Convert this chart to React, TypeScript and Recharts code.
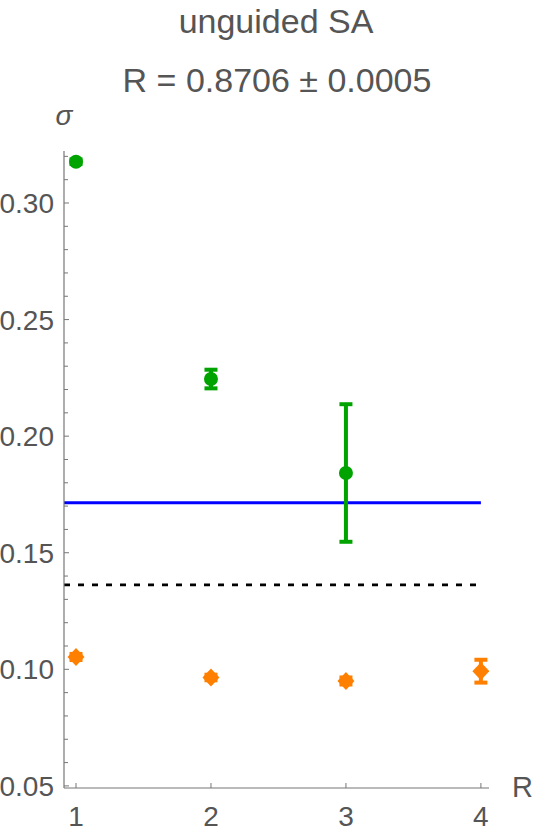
import React from "react";
import {
  ErrorBar,
  ReferenceLine,
  Scatter,
  ScatterChart,
  XAxis,
  YAxis,
} from "recharts";

const rValues = [1, 2, 3, 4];
const greenSigma = [0.3177, 0.2245, 0.1842];
const greenErr = [0.001, 0.004, 0.0295];
const orangeSigma = [0.1053, 0.0965, 0.095, 0.0992];
const orangeErr = [0.0013, 0.0012, 0.0015, 0.0049];

const blueLevel = 0.1714;
const dashedLevel = 0.1362;
const lineSpan = [0.911, 4.0];

const xTicks = [1, 2, 3, 4];
const yTicks = [
  0.05, 0.06, 0.07, 0.08, 0.09, 0.1, 0.11, 0.12, 0.13, 0.14, 0.15, 0.16, 0.17,
  0.18, 0.19, 0.2, 0.21, 0.22, 0.23, 0.24, 0.25, 0.26, 0.27, 0.28, 0.29, 0.3,
  0.31, 0.32,
];
const yMajor = [0.05, 0.1, 0.15, 0.2, 0.25, 0.3];

const greenData = greenSigma.map((s, i) => ({ r: rValues[i], sigma: s, err: greenErr[i] }));
const orangeData = orangeSigma.map((s, i) => ({ r: rValues[i], sigma: s, err: orangeErr[i] }));

const GREEN = "#00a300";
const ORANGE = "#ff8000";
const TEXT = "#555";
const AXIS = "#777";
const FONT = "'Liberation Sans', Arial, sans-serif";

const YTick = (props: any) => {
  const { x, y, payload } = props;
  const major = yMajor.some((m) => Math.abs(m - payload.value) < 1e-6);
  return (
    <g>
      <line x1={x} x2={x + (major ? 5 : 4)} y1={y} y2={y} stroke={AXIS} strokeWidth={1} />
      {major && (
        <text
          x={x - 10}
          y={y}
          dy="0.36em"
          textAnchor="end"
          fontSize={28}
          fontFamily={FONT}
          fill={TEXT}
        >
          {payload.value.toFixed(2)}
        </text>
      )}
    </g>
  );
};

const XTick = (props: any) => {
  const { x, y, payload } = props;
  return (
    <g>
      <line x1={x} x2={x} y1={y} y2={y - 5} stroke={AXIS} strokeWidth={1} />
      <text x={x} y={y + 38} textAnchor="middle" fontSize={28} fontFamily={FONT} fill={TEXT}>
        {payload.value}
      </text>
    </g>
  );
};

const Dot = (props: any) => <circle cx={props.cx} cy={props.cy} r={7} fill={GREEN} />;

const Diamond = (props: any) => {
  const { cx, cy } = props;
  return (
    <polygon
      points={`${cx},${cy - 9} ${cx + 8.5},${cy} ${cx},${cy + 9} ${cx - 8.5},${cy}`}
      fill={ORANGE}
    />
  );
};

export default function App() {
  return (
    <div style={{ position: "absolute", left: 0, top: 0, width: 533, height: 834, background: "#fff" }}>
      <ScatterChart
        width={533}
        height={834}
        margin={{ top: 151, right: 44, left: 4, bottom: 16 }}
      >
        <XAxis
          type="number"
          dataKey="r"
          domain={[0.911, 4.06]}
          ticks={xTicks}
          allowDataOverflow
          height={30}
          tickSize={0}
          tickMargin={0}
          tickLine={false}
          axisLine={{ stroke: AXIS, strokeWidth: 1.2 }}
          tick={<XTick />}
          interval={0}
        />
        <YAxis
          type="number"
          dataKey="sigma"
          domain={[0.0491, 0.3223]}
          ticks={yTicks}
          allowDataOverflow
          width={60}
          tickSize={0}
          tickMargin={0}
          tickLine={false}
          axisLine={{ stroke: AXIS, strokeWidth: 1.2 }}
          tick={<YTick />}
          interval={0}
        />
        <ReferenceLine
          segment={[
            { x: lineSpan[0], y: blueLevel },
            { x: lineSpan[1], y: blueLevel },
          ]}
          stroke="#0000ff"
          strokeWidth={3}
        />
        <ReferenceLine
          segment={[
            { x: lineSpan[0], y: dashedLevel },
            { x: lineSpan[1], y: dashedLevel },
          ]}
          stroke="#000"
          strokeWidth={2.8}
          strokeDasharray="6 8"
        />
        <Scatter data={greenData} shape={<Dot />} isAnimationActive={false}>
          <ErrorBar dataKey="err" direction="y" width={6.5} stroke={GREEN} strokeWidth={4} />
        </Scatter>
        <Scatter data={orangeData} shape={<Diamond />} isAnimationActive={false}>
          <ErrorBar dataKey="err" direction="y" width={6.5} stroke={ORANGE} strokeWidth={4} />
        </Scatter>
      </ScatterChart>
      <svg
        width={533}
        height={834}
        style={{ position: "absolute", left: 0, top: 0, pointerEvents: "none" }}
      >
        <text x={276} y={33} textAnchor="middle" fontSize={34} fontFamily={FONT} fill={TEXT}>
          unguided SA
        </text>
        <text x={277} y={92} textAnchor="middle" fontSize={34} fontFamily={FONT} fill={TEXT}>
          R = 0.8706 ± 0.0005
        </text>
        <text
          x={64}
          y={125}
          textAnchor="middle"
          fontSize={28}
          fontStyle="italic"
          fontFamily={FONT}
          fill={TEXT}
        >
          σ
        </text>
        <text x={512} y={797} fontSize={29} fontFamily={FONT} fill={TEXT}>
          R
        </text>
      </svg>
    </div>
  );
}
